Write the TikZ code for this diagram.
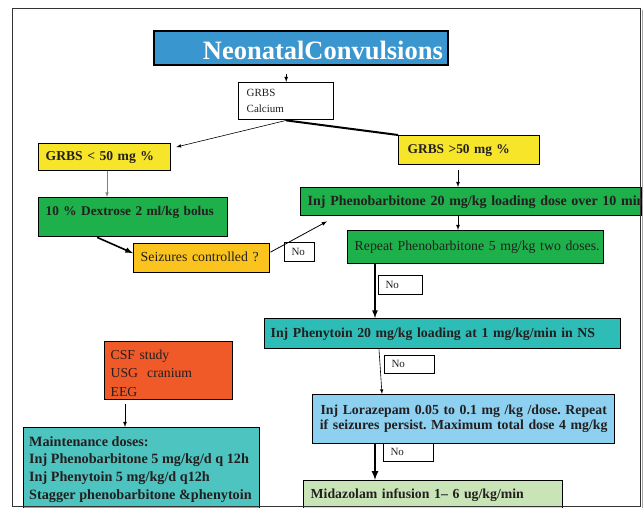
\documentclass[tikz,border=0pt]{standalone}
\usepackage{fontspec}
\setmainfont{Liberation Serif}
\usetikzlibrary{arrows, calc}

\definecolor{titleblue}{RGB}{58,150,207}
\definecolor{grbsyellow}{RGB}{247,229,42}
\definecolor{dosegreen}{RGB}{29,176,75}
\definecolor{seizorange}{RGB}{250,195,30}
\definecolor{phenyteal}{RGB}{45,189,182}
\definecolor{mainteal}{RGB}{78,196,192}
\definecolor{lorablue}{RGB}{141,208,239}
\definecolor{midagreen}{RGB}{201,228,182}
\definecolor{csforange}{RGB}{240,90,40}
\definecolor{textgray}{RGB}{35,31,32}

% font size for the box texts
\newcommand{\fsz}[1]{\fontsize{#1}{17}\selectfont}

\begin{document}
\frenchspacing
\begin{tikzpicture}[x=1pt, y=-1pt]

        % Page area
        \useasboundingbox (0,0) rectangle (643,508);
        \clip (0,0) rectangle (643,508);

        % Define styles for each type of node
        \tikzstyle{flowbox} = [rectangle, anchor=north west, draw=black, line width=1.4pt, inner xsep=7pt, inner ysep=0pt, text=textgray]
        \tikzstyle{dose} = [flowbox, align=left, text height=10pt, text depth=3pt, font=\fsz{13.8}\bfseries]
        \tikzstyle{note} = [flowbox, align=left, text height=10pt, text depth=3pt, font=\fsz{13.8}]
        \tikzstyle{nobox} = [flowbox, fill=white, line width=1.1pt, align=left, text height=8pt, text depth=2pt, font=\fsz{11}]

        % Define arrow style
        \tikzstyle{arrow} = [thick,->,>=latex]

        % Nodes
        \node (title) [flowbox, fill=titleblue, text=white, line width=1.8pt, align=right, text width=284pt, inner xsep=5pt, minimum height=34pt, text height=24pt, text depth=0pt, font=\fontsize{26.5}{30}\selectfont\bfseries] at (153,30) {NeonatalConvulsions};
        \node (grbsCa) [flowbox, fill=white, align=left, text width=79pt, inner xsep=8pt, minimum height=37pt, font=\fontsize{11}{16}\selectfont] at (238,82) {GRBS\\Calcium};

        % Low sugar branch
        \node (low) [dose, fill=grbsyellow, text width=118pt, minimum height=27pt, font=\fsz{13.6}\bfseries] at (38,143) {\mbox{GRBS < 50 mg \%}};
        \node (dex) [dose, fill=dosegreen, text width=175pt, minimum height=39pt, text depth=14pt, font=\fsz{13.3}\bfseries] at (38,197) {\mbox{10 \% Dextrose 2 ml/kg bolus}};
        \node (seiz) [note, fill=seizorange, text width=122pt, minimum height=29pt] at (133,243) {\mbox{Seizures controlled ?}};
        \node (no1) [nobox, text width=16pt, minimum height=19pt] at (284,242) {No};

        % Normal sugar branch
        \node (high) [dose, fill=grbsyellow, text width=123pt, inner xsep=9pt, minimum height=29pt, font=\fsz{13.4}\bfseries] at (398,135) {\mbox{GRBS >50 mg \%}};
        \node (pheno) [dose, fill=dosegreen, text width=327pt, minimum height=28pt, font=\fsz{14}\bfseries] at (300,187) {\mbox{Inj Phenobarbitone 20 mg/kg loading dose over 10 min}};
        \node (repeat) [note, fill=dosegreen, text width=242pt, minimum height=33pt] at (347,230) {\mbox{Repeat Phenobarbitone 5 mg/kg two doses.}};
        \node (no2) [nobox, text width=30pt, minimum height=19pt] at (378,275) {No};
        \node (phenyt) [dose, fill=phenyteal, text width=344pt, inner xsep=6pt, minimum height=30pt] at (264,318) {\mbox{Inj Phenytoin 20 mg/kg loading at 1 mg/kg/min in NS}};
        \node (no3) [nobox, text width=36pt, minimum height=18pt] at (384,355) {No};
        \node (loraz) [flowbox, fill=lorablue, align=center, text width=296pt, inner xsep=3pt, minimum height=49pt, font=\fontsize{13.8}{15}\selectfont\bfseries] at (312,394) {\mbox{Inj Lorazepam 0.05 to 0.1 mg /kg /dose. Repeat}\\ \mbox{if seizures persist. Maximum total dose 4 mg/kg}};
        \node (no4) [nobox, text width=36pt, minimum height=18pt] at (383,443) {No};
        \node (mida) [dose, fill=midagreen, text width=245pt, minimum height=50pt, text depth=25pt] at (303,480) {\mbox{Midazolam infusion 1-- 6 ug/kg/min}};

        % Work-up and maintenance
        \node (csf) [flowbox, fill=csforange, align=left, text width=116pt, inner xsep=6pt, minimum height=58pt, font=\fontsize{13.7}{18.5}\selectfont] at (104,341) {\rule{0pt}{14pt}CSF study\\ USG\ \ cranium\\ EEG};
        \node (maint) [flowbox, fill=mainteal, minimum width=236pt, minimum height=100pt] at (23,427) {};
        \node (maintText) [anchor=north west, inner sep=0pt, align=left, text=textgray, font=\fontsize{14.2}{17.7}\selectfont\bfseries] at ([shift={(6,9)}]maint.north west) {Maintenance doses:\\ Inj Phenobarbitone 5 mg/kg/d q 12h\\ Inj Phenytoin 5 mg/kg/d q12h\\ Stagger phenobarbitone \&phenytoin};

        % Columns the vertical arrows run along
        \coordinate (left) at (107,0);
        \coordinate (mid) at (458,0);
        \coordinate (col) at (375,0);
        \coordinate (drop) at (125,0);

        % Arrows
        \draw [arrow, shorten <=8pt] (title.south -| grbsCa.north) -- (grbsCa.north);
        \draw [arrow, semithick] (grbsCa.south) -- ([shift={(5,4)}]low.north east);
        \draw [line width=2pt] (grbsCa.south) -- (high.north west);

        \draw [arrow, gray, semithick] (left |- low.south) -- (left |- dex.north);
        \draw [arrow, line width=1.6pt] ([xshift=-36pt]dex.south) -- ([yshift=5pt]seiz.west);
        \draw [arrow] ([yshift=6pt]seiz.east) -- ([shift={(27,5)}]pheno.south west);

        \draw [arrow, shorten <=5pt] (mid |- high.south) -- (mid |- pheno.north);
        \draw [arrow] (mid |- pheno.south) -- (mid |- repeat.north);
        \draw [arrow, line width=1.6pt] (col |- repeat.south) -- (col |- phenyt.north);
        \draw [arrow, semithick] ([xshift=115pt]phenyt.south west) -- ([xshift=70pt]loraz.north west);
        \draw [arrow, line width=2pt] (col |- loraz.south) -- (col |- mida.north);

        \draw [arrow, shorten <=4pt] (drop |- csf.south) -- (drop |- maint.north);

        % Frame
        \draw [black!35, line width=1pt] (642,10) -- (642,508);
        \draw [black!80, line width=0.9pt] (12,8) rectangle (640,506);

    \end{tikzpicture}
\end{document}
